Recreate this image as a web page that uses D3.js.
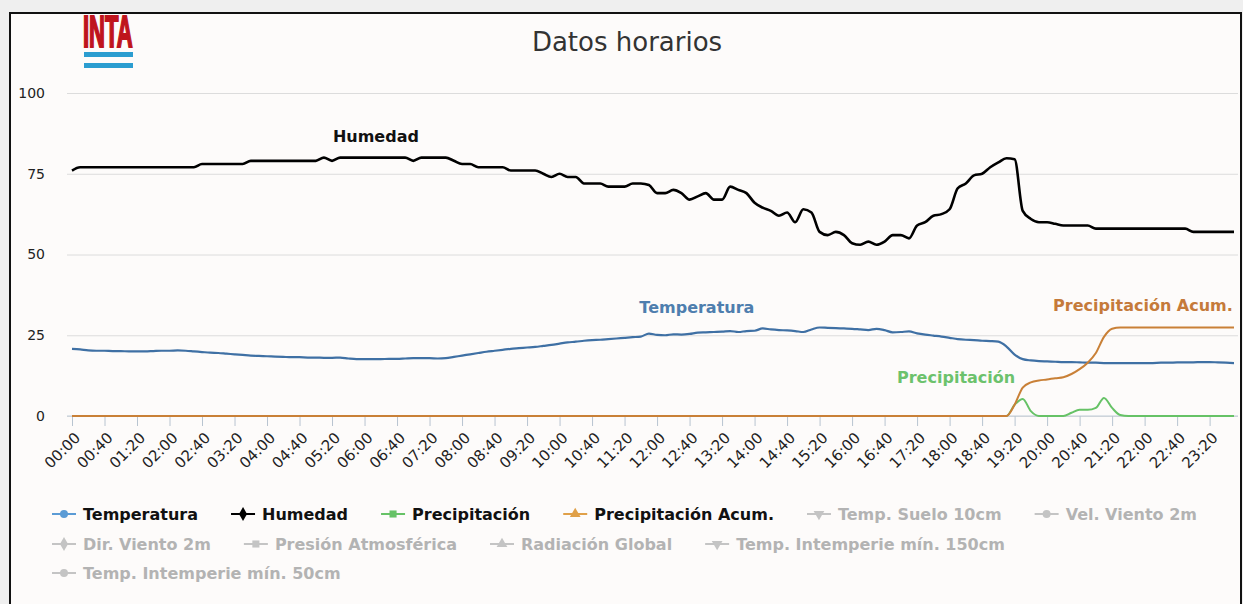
<!DOCTYPE html>
<html>
<head>
<meta charset="utf-8">
<script src="https://cdn.jsdelivr.net/npm/d3@7"></script>
<style>
body { margin: 0; background: #efefef; }
#chart { width: 1243px; height: 604px; }
text { font-family: "DejaVu Sans", sans-serif; }
</style>
</head>
<body>
<div id="chart"></div>
<script>
// one reading every 10 minutes, 00:00 .. 23:50
var minutes = d3.range(0, 1440, 10);

var tick_labels = ["00:00", "00:40", "01:20", "02:00", "02:40", "03:20", "04:00", "04:40", "05:20",
    "06:00", "06:40", "07:20", "08:00", "08:40", "09:20", "10:00", "10:40", "11:20", "12:00",
    "12:40", "13:20", "14:00", "14:40", "15:20", "16:00", "16:40", "17:20", "18:00", "18:40",
    "19:20", "20:00", "20:40", "21:20", "22:00", "22:40", "23:20"];

var y_ticks = [0, 25, 50, 75, 100];

var temperatura = [
    20.8, 20.6, 20.3, 20.2, 20.2, 20.1, 20.1, 20.0, 20.0, 20.0,
    20.1, 20.2, 20.2, 20.3, 20.2, 20.0, 19.8, 19.6, 19.5, 19.3,
    19.1, 18.9, 18.7, 18.6, 18.5, 18.4, 18.3, 18.2, 18.2, 18.1,
    18.1, 18.0, 18.0, 18.1, 17.8, 17.6, 17.6, 17.6, 17.6, 17.7,
    17.7, 17.8, 17.9, 17.9, 17.9, 17.8, 17.9, 18.3, 18.7, 19.1,
    19.5, 19.9, 20.2, 20.5, 20.8, 21.0, 21.2, 21.4, 21.7, 22.0,
    22.4, 22.8, 23.0, 23.3, 23.5, 23.6, 23.8, 24.0, 24.2, 24.4,
    24.6, 25.5, 25.1, 25.0, 25.3, 25.2, 25.4, 25.8, 25.9, 26.0,
    26.1, 26.3, 26.0, 26.3, 26.4, 27.1, 26.8, 26.6, 26.5, 26.3,
    26.0, 26.8, 27.4, 27.3, 27.2, 27.1, 27.0, 26.8, 26.6, 27.0,
    26.6, 25.9, 26.0, 26.2, 25.6, 25.2, 24.9, 24.6, 24.2, 23.8,
    23.6, 23.5, 23.3, 23.2, 23.0, 21.5, 19.0, 17.6, 17.2, 17.0,
    16.9, 16.8, 16.7, 16.7, 16.6, 16.5, 16.5, 16.4, 16.4, 16.4,
    16.4, 16.4, 16.4, 16.4, 16.5, 16.5, 16.6, 16.6, 16.6, 16.7,
    16.7, 16.6, 16.5, 16.4
];

var humedad = [
    76, 77, 77, 77, 77, 77, 77, 77, 77, 77,
    77, 77, 77, 77, 77, 77, 78, 78, 78, 78,
    78, 78, 79, 79, 79, 79, 79, 79, 79, 79,
    79, 80, 79, 80, 80, 80, 80, 80, 80, 80,
    80, 80, 79, 80, 80, 80, 80, 79, 78, 78,
    77, 77, 77, 77, 76, 76, 76, 76, 75, 74,
    75, 74, 74, 72, 72, 72, 71, 71, 71, 72,
    72, 71.5, 69, 69, 70, 69, 67, 68, 69, 67,
    67, 71, 70, 69, 66, 64.5, 63.5, 62, 63, 60,
    64, 63, 57, 56, 57, 56, 53.5, 53, 54, 53,
    54, 56, 56, 55, 59, 60, 62, 62.5, 64, 70.5,
    72, 74.5, 75, 77, 78.5, 79.8, 79.5, 63.5, 61, 60,
    60, 59.5, 59, 59, 59, 59, 58, 58, 58, 58,
    58, 58, 58, 58, 58, 58, 58, 58, 57, 57,
    57, 57, 57, 57
];

var precipitacion = [
    0, 0, 0, 0, 0, 0, 0, 0, 0, 0,
    0, 0, 0, 0, 0, 0, 0, 0, 0, 0,
    0, 0, 0, 0, 0, 0, 0, 0, 0, 0,
    0, 0, 0, 0, 0, 0, 0, 0, 0, 0,
    0, 0, 0, 0, 0, 0, 0, 0, 0, 0,
    0, 0, 0, 0, 0, 0, 0, 0, 0, 0,
    0, 0, 0, 0, 0, 0, 0, 0, 0, 0,
    0, 0, 0, 0, 0, 0, 0, 0, 0, 0,
    0, 0, 0, 0, 0, 0, 0, 0, 0, 0,
    0, 0, 0, 0, 0, 0, 0, 0, 0, 0,
    0, 0, 0, 0, 0, 0, 0, 0, 0, 0,
    0, 0, 0, 0, 0, 0, 3.5, 5.3, 1.5, 0,
    0, 0, 0, 1, 1.9, 1.9, 2.5, 5.6, 2.5, 0.3,
    0, 0, 0, 0, 0, 0, 0, 0, 0, 0,
    0, 0, 0, 0
];

var precip_acum = [
    0, 0, 0, 0, 0, 0, 0, 0, 0, 0,
    0, 0, 0, 0, 0, 0, 0, 0, 0, 0,
    0, 0, 0, 0, 0, 0, 0, 0, 0, 0,
    0, 0, 0, 0, 0, 0, 0, 0, 0, 0,
    0, 0, 0, 0, 0, 0, 0, 0, 0, 0,
    0, 0, 0, 0, 0, 0, 0, 0, 0, 0,
    0, 0, 0, 0, 0, 0, 0, 0, 0, 0,
    0, 0, 0, 0, 0, 0, 0, 0, 0, 0,
    0, 0, 0, 0, 0, 0, 0, 0, 0, 0,
    0, 0, 0, 0, 0, 0, 0, 0, 0, 0,
    0, 0, 0, 0, 0, 0, 0, 0, 0, 0,
    0, 0, 0, 0, 0, 0, 3.5, 8.8, 10.4, 11,
    11.3, 11.7, 12, 13, 14.5, 16.5, 19.5, 24.5, 27, 27.4,
    27.4, 27.4, 27.4, 27.4, 27.4, 27.4, 27.4, 27.4, 27.4, 27.4,
    27.4, 27.4, 27.4, 27.4
];

var series_names = ["Temperatura", "Humedad", "Precipitación", "Precipitación Acum."];
var series_values = [temperatura, humedad, precipitacion, precip_acum];

// where each series name is written, in data units (minute of day, value)
var label_minute = [769, 374, 1088, 1318];
var label_value = [33.5, 86.6, 11.8, 34.2];

var legend_names = ["Temperatura", "Humedad", "Precipitación", "Precipitación Acum.",
    "Temp. Suelo 10cm", "Vel. Viento 2m", "Dir. Viento 2m", "Presión Atmosférica",
    "Radiación Global", "Temp. Intemperie mín. 150cm", "Temp. Intemperie mín. 50cm"];
var legend_shown = [true, true, true, true, false, false, false, false, false, false, false];

var draw_chart = {
    width: 1243,
    height: 604,
    view: 0,
    x: 0,
    y: 0,
    line_colors: ["#3f70a4", "#000000", "#66c266", "#c98037"],
    label_colors: ["#4e7eae", "#111111", "#6cc26c", "#c57a3a"],
    legend_colors: ["#5b9bd5", "#000000", "#66c266", "#e0a048"],
    line_widths: [2.2, 2.6, 2, 2],
    initialize: function() {
        var self = this;
        self.view = d3.select("#chart").append("svg")
            .attr("width", self.width)
            .attr("height", self.height);
        // frame
        self.view.append("rect")
            .attr("x", 10).attr("y", 13)
            .attr("width", 1231).attr("height", 620)
            .attr("fill", "#fdfbfa")
            .attr("stroke", "#111")
            .attr("stroke-width", 2);
        self.x = d3.scaleLinear().domain([0, 1430]).range([72, 1234]);
        self.y = d3.scaleLinear().domain([0, 100]).range([416, 93]);
    },
    draw_header: function() {
        var self = this;
        var logo = self.view.append("g");
        logo.append("text")
            .attr("transform", "translate(83,47) scale(0.5,1)")
            .style("font-family", "'Liberation Sans', Arial, sans-serif")
            .style("font-weight", "bold")
            .style("font-size", "44px")
            .attr("fill", "#bf141c")
            .attr("stroke", "#bf141c")
            .attr("stroke-width", 2.2)
            .text("INTA");
        logo.append("rect").attr("x", 84).attr("y", 52).attr("width", 49).attr("height", 5).attr("fill", "#2b9dd0");
        logo.append("rect").attr("x", 84).attr("y", 63).attr("width", 49).attr("height", 5).attr("fill", "#2b9dd0");

        self.view.append("text")
            .attr("x", 627).attr("y", 51)
            .attr("text-anchor", "middle")
            .style("font-size", "26px")
            .attr("fill", "#333")
            .text("Datos horarios");
    },
    draw_axes: function() {
        var self = this;
        var gy = self.view.append("g")
            .attr("transform", "translate(67,0)")
            .call(d3.axisLeft(self.y).tickValues(y_ticks).tickSize(-1171).tickPadding(22));
        gy.select(".domain").remove();
        gy.selectAll(".tick line").attr("stroke", "#dcdcdc");
        gy.selectAll(".tick text")
            .style("font-size", "14px")
            .style("font-family", "'DejaVu Sans', sans-serif")
            .attr("fill", "#222");

        self.view.append("line")
            .attr("x1", 67).attr("x2", 1238)
            .attr("y1", self.y(0)).attr("y2", self.y(0))
            .attr("stroke", "#c0ccd8");

        var gx = self.view.append("g")
            .attr("transform", "translate(0," + self.y(0) + ")")
            .call(d3.axisBottom(self.x)
                .tickValues(d3.range(0, 1440, 40))
                .tickSize(10)
                .tickFormat(function(d, i) { return tick_labels[i]; }));
        gx.select(".domain").remove();
        gx.selectAll(".tick line").attr("stroke", "#b8c4d0");
        gx.selectAll(".tick text")
            .attr("x", 0).attr("y", 0).attr("dy", "0.35em")
            .attr("transform", "translate(5,19) rotate(-45)")
            .attr("text-anchor", "end")
            .style("font-size", "15px")
            .style("font-family", "'DejaVu Sans', sans-serif")
            .attr("fill", "#222");
    },
    draw_lines: function() {
        var self = this;
        var line = d3.line()
            .x(function(d, i) { return self.x(minutes[i]); })
            .y(function(d) { return self.y(d); })
            .curve(d3.curveMonotoneX);

        self.view.append("g")
            .selectAll("path")
            .data(series_values)
            .enter().append("path")
            .attr("d", function(d) { return line(d); })
            .attr("fill", "none")
            .attr("stroke", function(d, i) { return self.line_colors[i]; })
            .attr("stroke-width", function(d, i) { return self.line_widths[i]; })
            .attr("stroke-linejoin", "round");

        self.view.append("g")
            .selectAll("text")
            .data(series_names)
            .enter().append("text")
            .attr("x", function(d, i) { return self.x(label_minute[i]); })
            .attr("y", function(d, i) { return self.y(label_value[i]); })
            .attr("text-anchor", "middle")
            .attr("dominant-baseline", "central")
            .style("font-size", "16px")
            .style("font-weight", "bold")
            .attr("fill", function(d, i) { return self.label_colors[i]; })
            .text(function(d) { return d; });
    },
    draw_legend: function() {
        var self = this;
        var shapes = [d3.symbolCircle, d3.symbolDiamond, d3.symbolSquare, d3.symbolTriangle, d3.symbolTriangle];
        var g = self.view.append("g");
        var px = 52, row = 0, row_y = [514, 544, 573];
        for (var i = 0; i < legend_names.length; i++) {
            var on = legend_shown[i];
            var color = on ? self.legend_colors[i] : "#c4c4c4";
            var item = g.append("g");
            var txt = item.append("text")
                .attr("x", 31)
                .attr("dominant-baseline", "central")
                .style("font-size", "16px")
                .style("font-weight", "bold")
                .attr("fill", on ? "#111" : "#b3b3b3")
                .text(legend_names[i]);
            var w = 31 + txt.node().getComputedTextLength();
            if (px + w > 1225) {
                row++;
                px = 52;
            }
            item.attr("transform", "translate(" + px + "," + row_y[row] + ")");
            item.append("line")
                .attr("x1", 0).attr("x2", 24)
                .attr("stroke", color)
                .attr("stroke-width", 2);
            var k = i % 5;
            item.append("path")
                .attr("d", d3.symbol().type(shapes[k]).size(k == 1 ? 56 : 50)())
                .attr("transform", "translate(12,0)" + (k == 4 ? " rotate(180)" : ""))
                .attr("fill", color);
            px += w + 33;
        }
    }
};

draw_chart.initialize();
draw_chart.draw_header();
draw_chart.draw_axes();
draw_chart.draw_lines();
draw_chart.draw_legend();
</script>
</body>
</html>
